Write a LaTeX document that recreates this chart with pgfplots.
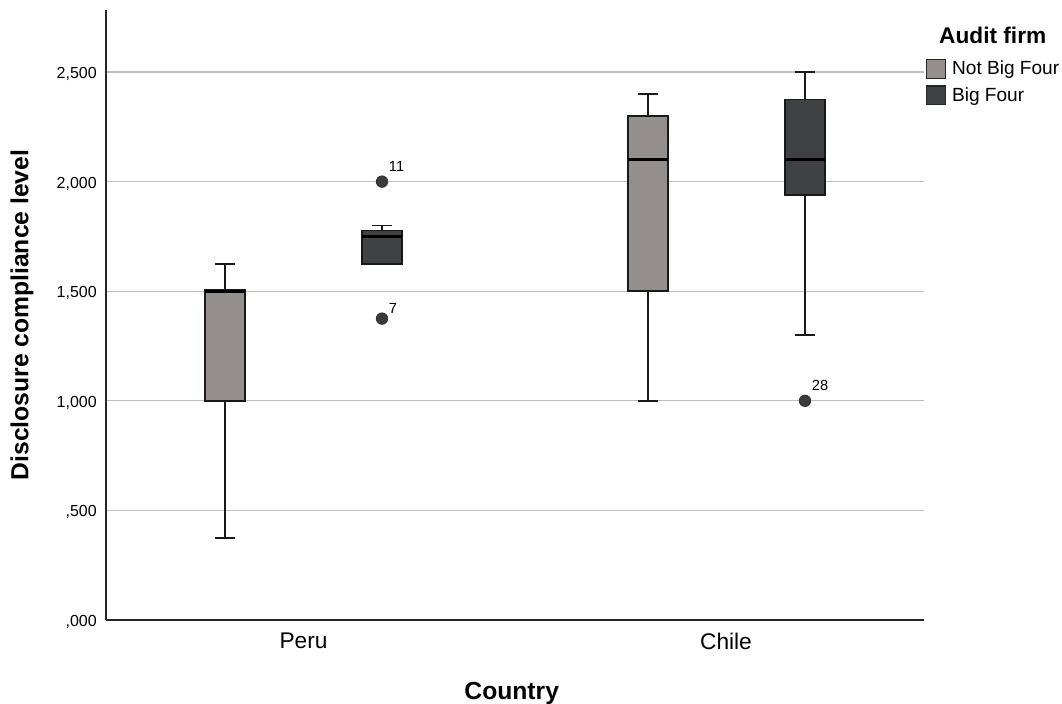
\documentclass[border=0pt]{standalone}
\usepackage{fontspec}
\setmainfont{Liberation Sans}
\usepackage{pgfplots}
\pgfplotsset{compat=1.18}
\usepgfplotslibrary{statistics}
\definecolor{nbf}{RGB}{148,143,140}
\definecolor{bf}{RGB}{64,65,66}
\definecolor{gridc}{RGB}{190,190,190}
\definecolor{outc}{RGB}{58,58,60}
\begin{document}
\begin{tikzpicture}
\begin{axis}[
  at={(79.5pt,62.25pt)}, anchor=south west,
  scale only axis, width=613.5pt, height=457.5pt,
  xmin=0, xmax=8.18, ymin=0, ymax=2.783,
  clip=false,
  axis x line=bottom, axis y line=left,
  axis line style={-, line width=0.9pt, black!85},
  major tick length=0pt,
  xtick={1.975,6.20}, xticklabels={Peru,Chile},
  ytick={0,0.5,1,1.5,2,2.5},
  yticklabels={{,000},{,500},{1,000},{1,500},{2,000},{2,500}},
  xticklabel style={font=\fontsize{17}{17}\selectfont, inner sep=0pt, anchor=north, yshift=-9.5pt},
  yticklabel style={font=\fontsize{12}{12}\selectfont, inner sep=0pt, anchor=east, xshift=-6.75pt, yshift=-1.5pt},
  ymajorgrids, major grid style={gridc, line width=0.8pt},
  xlabel={\textbf{Country}},
  ylabel={\textbf{Disclosure compliance level}},
  xlabel style={font=\fontsize{18.5}{18.5}\selectfont, at={(axis description cs:0.496,-0.121)}, anchor=center},
  ylabel style={font=\fontsize{18.5}{18.5}\selectfont, at={(axis description cs:-0.1027,0.5)}, anchor=center},
  boxplot/draw direction=y,
  boxplot/every median/.style={draw=black, line width=2.4pt},
  legend image code/.code={\draw[#1] (0pt,-7pt) rectangle (14pt,7pt);},
  legend style={at={(axis description cs:1,1)}, anchor=north west, xshift=1.5pt, yshift=-36.5pt,
    draw=none, fill=none, inner sep=0pt, font=\fontsize{14.3}{14.3}\selectfont,
    row sep=5pt, column sep=4.5pt, nodes={inner sep=0pt}},
  legend cell align=left,
]
\addlegendimage{fill=nbf, draw=black!85, line width=0.9pt}
\addlegendentry{Not Big Four}
\addlegendimage{fill=bf, draw=black!85, line width=0.9pt}
\addlegendentry{Big Four}

% Peru - Not Big Four
\addplot[boxplot prepared={draw position=1.19, lower whisker=0.375, lower quartile=1.0,
  median=1.5, upper quartile=1.505, upper whisker=1.625, box extend=0.40, whisker extend=0.20},
  fill=nbf, draw=black!90, line width=1.1pt] coordinates {};
% Peru - Big Four
\addplot[boxplot prepared={draw position=2.76, lower whisker=1.625, lower quartile=1.625,
  median=1.75, upper quartile=1.777, upper whisker=1.80, box extend=0.40, whisker extend=0.20},
  fill=bf, draw=black!90, line width=1.1pt, mark=*, mark size=4.3pt,
  mark options={fill=outc, draw=black!80, line width=0.6pt}] coordinates {(0,2.0) (0,1.375)};
% Chile - Not Big Four
\addplot[boxplot prepared={draw position=5.42, lower whisker=1.0, lower quartile=1.5,
  median=2.1, upper quartile=2.30, upper whisker=2.40, box extend=0.40, whisker extend=0.20},
  fill=nbf, draw=black!90, line width=1.1pt] coordinates {};
% Chile - Big Four
\addplot[boxplot prepared={draw position=6.99, lower whisker=1.30, lower quartile=1.94,
  median=2.1, upper quartile=2.375, upper whisker=2.50, box extend=0.40, whisker extend=0.20},
  fill=bf, draw=black!90, line width=1.1pt, mark=*, mark size=4.3pt,
  mark options={fill=outc, draw=black!80, line width=0.6pt}] coordinates {(0,1.0)};

% outlier case labels
\addplot[draw=none, nodes near coords, point meta=explicit symbolic,
  nodes near coords style={anchor=base west, inner sep=0pt, xshift=5pt, yshift=7.5pt,
  font=\fontsize{11}{11}\selectfont}]
  coordinates {(2.76,2.0) [11] (6.99,1.0) [28]};
\addplot[draw=none, nodes near coords, point meta=explicit symbolic,
  nodes near coords style={anchor=base west, inner sep=0pt, xshift=5pt, yshift=4pt,
  font=\fontsize{11}{11}\selectfont}]
  coordinates {(2.76,1.375) [7]};

\node[font=\bfseries\fontsize{17}{17}\selectfont, anchor=center] at (axis description cs:1.084,0.959) {Audit firm};
\end{axis}
\pgfresetboundingbox
\path[use as bounding box] (0pt,0pt) rectangle (796.5pt,527.25pt);
\end{tikzpicture}
\end{document}
